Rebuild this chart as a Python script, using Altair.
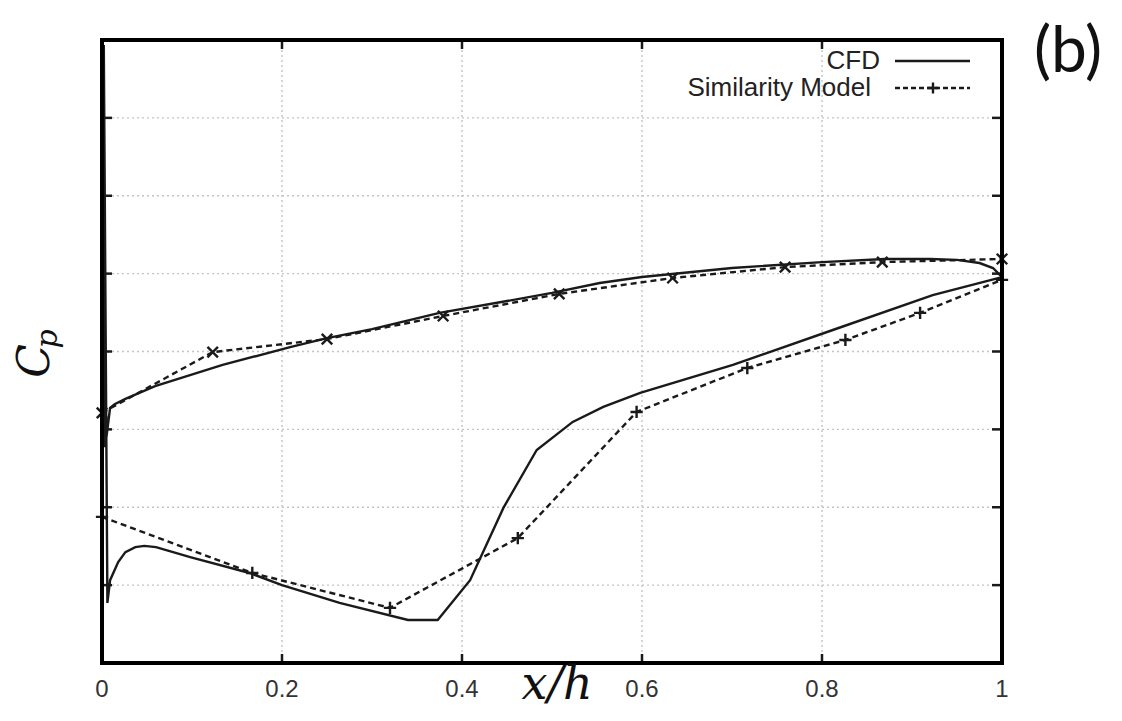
import altair as alt
import pandas as pd

# ---------------- data ----------------
# CFD, upper (top) branch, leading edge -> trailing edge
cfd_up_x = [0.0035, 0.009, 0.014, 0.026, 0.059, 0.134, 0.209, 0.25, 0.3, 0.375, 0.45,
            0.5, 0.553, 0.6, 0.7, 0.8, 0.87, 0.92, 0.95, 0.975, 0.99, 1.0]
cfd_up_y = [-0.307, -0.181, -0.169, -0.152, -0.111, -0.043, 0.014, 0.043, 0.072, 0.124, 0.162,
            0.188, 0.220, 0.239, 0.268, 0.287, 0.297, 0.297, 0.294, 0.284, 0.268, 0.239]
# CFD, stagnation spike at the leading edge
cfd_spike_x = [0.002]
cfd_spike_y = [0.984]
# CFD, lower (bottom) branch, leading edge -> trailing edge
cfd_lo_x = [0.006, 0.009, 0.018, 0.026, 0.037, 0.047, 0.06, 0.098, 0.164, 0.2, 0.264, 0.34,
            0.373, 0.409, 0.446, 0.483, 0.523, 0.557, 0.598, 0.701, 0.812, 0.923, 1.0]
cfd_lo_y = [-0.807, -0.734, -0.676, -0.644, -0.628, -0.624, -0.628, -0.660, -0.711, -0.750,
            -0.807, -0.862, -0.862, -0.734, -0.502, -0.316, -0.226, -0.178, -0.133, -0.043,
            0.069, 0.181, 0.239]

# Similarity model
sim_up_x = [0.0, 0.123, 0.25, 0.379, 0.508, 0.634, 0.759, 0.867, 1.0]
sim_up_y = [-0.197, -0.002, 0.040, 0.114, 0.185, 0.236, 0.271, 0.287, 0.297]
sim_lo_x = [0.0, 0.167, 0.32, 0.462, 0.594, 0.717, 0.826, 0.909, 1.0]
sim_lo_y = [-0.531, -0.711, -0.823, -0.599, -0.194, -0.053, 0.037, 0.124, 0.230]

x_ticks = [0, 0.2, 0.4, 0.6, 0.8, 1.0]
x_tick_labels = ["0", "0.2", "0.4", "0.6", "0.8", "1"]
x_grid = [0.2, 0.4, 0.6, 0.8]
y_ticks = [-1.0, -0.75, -0.5, -0.25, 0.0, 0.25, 0.5, 0.75, 1.0]
y_grid = [-0.75, -0.5, -0.25, 0.0, 0.25, 0.5, 0.75]
legend_labels = ["CFD", "Similarity Model"]

# ---------------- tables ----------------
path_x = cfd_up_x[::-1] + cfd_spike_x + cfd_lo_x
path_y = cfd_up_y[::-1] + cfd_spike_y + cfd_lo_y
cfd_df = pd.DataFrame({"x": path_x, "y": path_y, "idx": list(range(len(path_x)))})

sim_df = pd.concat([
    pd.DataFrame({"x": sim_up_x, "y": sim_up_y, "surf": "upper", "idx": range(len(sim_up_x))}),
    pd.DataFrame({"x": sim_lo_x, "y": sim_lo_y, "surf": "lower", "idx": range(len(sim_lo_x))}),
])
sim_up_df = sim_df[sim_df.surf == "upper"]
sim_lo_df = sim_df[sim_df.surf == "lower"]

xt_df = pd.DataFrame({"t": x_ticks, "lab": x_tick_labels})
xg_df = pd.DataFrame({"t": x_grid})
yt_df = pd.DataFrame({"t": y_ticks})
yg_df = pd.DataFrame({"t": y_grid})

INK = "#1a1a1a"
W, H = 900, 623
X_SHAPE = "M-1,-1L1,1M-1,1L1,-1"
P_SHAPE = "M-1,0L1,0M0,-1L0,1"
GRID = dict(color="#c4c4c4", strokeWidth=1.4, strokeDash=[2, 3])

xscale = alt.Scale(domain=[0, 1], nice=False, zero=False)
yscale = alt.Scale(domain=[-1, 1], nice=False, zero=False)

# grid lines (interior only)
gx = alt.Chart(xg_df).mark_rule(**GRID).encode(
    x=alt.X("t:Q", scale=xscale, axis=None), y=alt.value(0), y2=alt.value(H))
gy = alt.Chart(yg_df).mark_rule(**GRID).encode(
    y=alt.Y("t:Q", scale=yscale, axis=None), x=alt.value(0), x2=alt.value(W))

# x tick labels
xlabels = alt.Chart(xt_df).mark_text(
    font="Liberation Sans", fontSize=24, color="#333333", baseline="top", align="center"
).encode(x=alt.X("t:Q", scale=xscale), y=alt.value(H + 15), text="lab:N")

# inward ticks (mirrored, gnuplot style)
tick_style = dict(color=INK, strokeWidth=2.5)
tb = alt.Chart(xt_df).mark_rule(**tick_style).encode(
    x=alt.X("t:Q", scale=xscale), y=alt.value(H), y2=alt.value(H - 9))
tt = alt.Chart(xt_df).mark_rule(**tick_style).encode(
    x=alt.X("t:Q", scale=xscale), y=alt.value(0), y2=alt.value(9))
tl = alt.Chart(yt_df).mark_rule(**tick_style).encode(
    y=alt.Y("t:Q", scale=yscale), x=alt.value(0), x2=alt.value(10))
tr = alt.Chart(yt_df).mark_rule(**tick_style).encode(
    y=alt.Y("t:Q", scale=yscale), x=alt.value(W), x2=alt.value(W - 10))

cfd_line = alt.Chart(cfd_df).mark_line(color=INK, strokeWidth=2.4).encode(
    x=alt.X("x:Q", scale=xscale), y=alt.Y("y:Q", scale=yscale), order="idx:Q")

sim_line = alt.Chart(sim_df).mark_line(color=INK, strokeWidth=2.4, strokeDash=[6, 4]).encode(
    x=alt.X("x:Q", scale=xscale), y=alt.Y("y:Q", scale=yscale),
    detail="surf:N", order="idx:Q")

sim_up_pts = alt.Chart(sim_up_df).mark_point(shape=X_SHAPE, filled=False, stroke=INK,
                                             strokeWidth=2.4, size=110, opacity=1).encode(
    x=alt.X("x:Q", scale=xscale), y=alt.Y("y:Q", scale=yscale))
sim_lo_pts = alt.Chart(sim_lo_df).mark_point(shape=P_SHAPE, filled=False, stroke=INK,
                                             strokeWidth=2.4, size=150, opacity=1).encode(
    x=alt.X("x:Q", scale=xscale), y=alt.Y("y:Q", scale=yscale))

# frame
one = pd.DataFrame({"a": [0]})
FR = dict(color="black", strokeWidth=4, opacity=1)
f_top = alt.Chart(one).mark_rule(**FR).encode(x=alt.value(-2), x2=alt.value(W + 2), y=alt.value(0))
f_bot = alt.Chart(one).mark_rule(**FR).encode(x=alt.value(-2), x2=alt.value(W + 2), y=alt.value(H))
f_lft = alt.Chart(one).mark_rule(**FR).encode(y=alt.value(-2), y2=alt.value(H + 2), x=alt.value(0))
f_rgt = alt.Chart(one).mark_rule(**FR).encode(y=alt.value(-2), y2=alt.value(H + 2), x=alt.value(W))

# legend (inside, top right)
leg_txt1 = alt.Chart(pd.DataFrame({"label": [legend_labels[0]]})).mark_text(
    align="right", baseline="alphabetic", font="Liberation Sans", fontSize=26, color="#222222"
).encode(text="label:N", x=alt.value(778), y=alt.value(29))
leg_txt2 = alt.Chart(pd.DataFrame({"label": [legend_labels[1]]})).mark_text(
    align="right", baseline="alphabetic", font="Liberation Sans", fontSize=26, color="#222222"
).encode(text="label:N", x=alt.value(769), y=alt.value(56))
leg_l1 = alt.Chart(one).mark_rule(color=INK, strokeWidth=2.4).encode(
    x=alt.value(793), x2=alt.value(868), y=alt.value(21))
leg_l2 = alt.Chart(one).mark_rule(color=INK, strokeWidth=2.4, strokeDash=[5, 3]).encode(
    x=alt.value(793), x2=alt.value(868), y=alt.value(48))
leg_p2 = alt.Chart(one).mark_point(shape=P_SHAPE, filled=False, stroke=INK,
                                   strokeWidth=2.4, size=120, opacity=1).encode(
    x=alt.value(831), y=alt.value(48))

# titles / annotations
xt_title = alt.Chart(pd.DataFrame({"t": ["x/h"]})).mark_text(
    font="DejaVu Serif", fontStyle="italic", fontSize=46, color="#111111",
    align="center", baseline="alphabetic").encode(text="t:N", x=alt.value(455), y=alt.value(659))
yt_c = alt.Chart(pd.DataFrame({"t": ["C"]})).mark_text(
    font="DejaVu Serif", fontStyle="italic", fontSize=44, color="#111111", angle=270,
    align="center", baseline="alphabetic").encode(text="t:N", x=alt.value(-53), y=alt.value(321))
yt_p = alt.Chart(pd.DataFrame({"t": ["p"]})).mark_text(
    font="DejaVu Serif", fontStyle="italic", fontSize=30, color="#111111", angle=270,
    align="center", baseline="alphabetic").encode(text="t:N", x=alt.value(-45), y=alt.value(299))
panel = alt.Chart(pd.DataFrame({"t": ["(b)"]})).mark_text(
    font="Lato", fontSize=64, color="#111111",
    align="center", baseline="alphabetic").encode(text="t:N", x=alt.value(966), y=alt.value(32))

chart = alt.layer(
    gx, gy, xlabels, tb, tt, tl, tr, cfd_line, sim_line, sim_up_pts, sim_lo_pts,
    f_top, f_bot, f_lft, f_rgt,
    leg_txt1, leg_txt2, leg_l1, leg_l2, leg_p2, xt_title, yt_c, yt_p, panel
).properties(
    width=W, height=H, autosize="none",
    padding={"left": 94, "top": 32, "right": 112, "bottom": 50},
).configure_view(stroke=None)

chart.save("out.html", embed_options={"renderer": "svg", "actions": False})
